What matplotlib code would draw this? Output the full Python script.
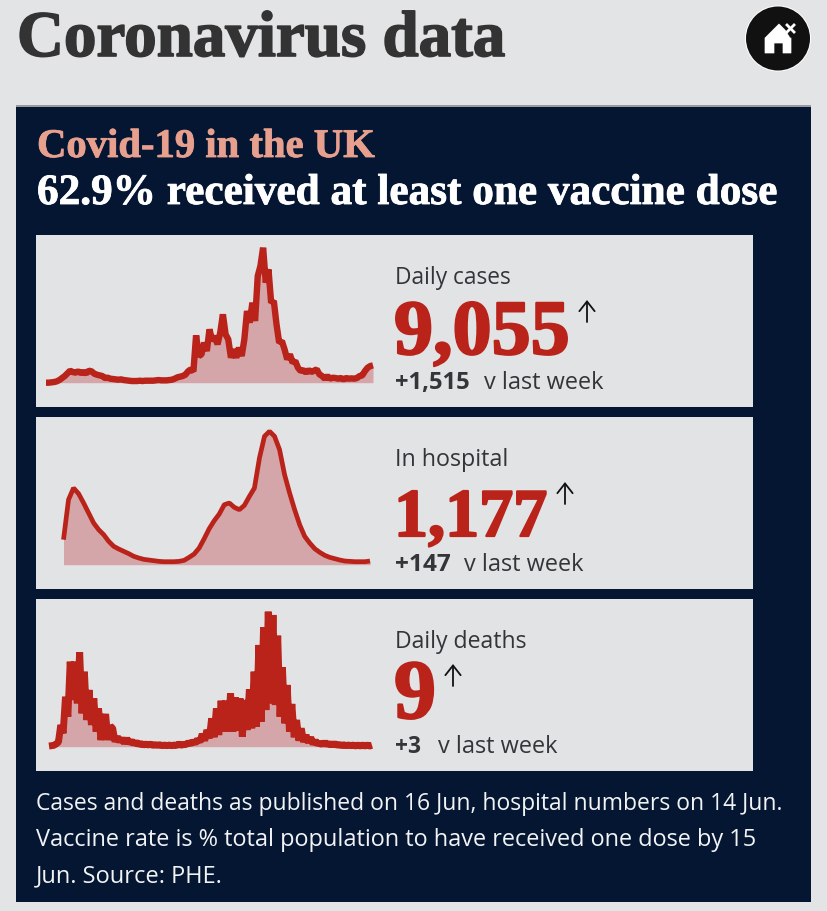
import numpy as np
import matplotlib
matplotlib.use("Agg")
import matplotlib.pyplot as plt
import matplotlib.patheffects as pe
from matplotlib.patches import Rectangle, Circle, Polygon

# Values, relative heights (tallest peak about 413)
cases = [0,0,1,2,4,8,14,20,28,36,32,30,34,29,32,28,36,34,27,24,22,20,14,15,12,11,10,9,10,8,7,6,5,5,5,6,5,6,6,6,
         6,7,8,7,7,7,8,9,12,16,18,20,24,34,40,34,142,80,85,120,95,160,125,140,115,150,205,145,130,75,100,75,105,80,130,
         215,180,240,185,320,350,405,300,340,240,245,175,120,125,100,70,85,60,65,45,35,38,30,38,32,36,40,25,20,12,20,12,
         15,14,12,14,10,14,12,13,12,14,20,22,35,45,50,52]
hospital = [75,195,230,213,185,155,125,105,90,70,55,47,40,33,25,20,16,14,12,10,9,9,9,10,13,22,32,50,78,108,132,152,180,
            185,172,165,178,205,230,320,385,400,385,345,270,215,165,120,85,65,48,37,28,22,18,14,11,10,9,9,9,11]
deaths = [2,3,4,8,14,65,40,150,90,255,140,255,130,283,100,225,80,170,65,145,45,115,20,60,98,20,62,55,15,30,15,25,10,25,10,
          18,8,14,6,10,5,8,5,8,4,6,4,6,3,5,3,5,3,5,3,9,4,7,6,12,8,16,10,22,14,38,18,50,25,85,28,115,35,138,45,138,45,
          160,45,148,48,145,30,140,50,172,55,225,60,305,75,358,110,405,130,395,125,333,90,238,70,185,45,128,28,80,18,55,14,35,12,
          28,8,18,7,12,5,14,5,10,4,10,4,7,3,6,3,5,3,5,2,5,2,5,2,5,2,4]

titles = ["Daily cases", "In hospital", "Daily deaths"]
headline = ["9,055", "1,177", "9"]
changes = ["+1,515", "+147", "+3"]
compare = "v last week"
footer = ["Cases and deaths as published on 16 Jun, hospital numbers on 14 Jun.",
          "Vaccine rate is % total population to have received one dose by 15",
          "Jun. Source: PHE."]

BG = "#e3e4e6"; NAVY = "#051633"; PANEL = "#e2e3e5"; RED = "#b9231a"; FILL = "#d5a6a9"
PINK = "#e8a08e"; INK = "#333538"
SANS = ["Open Sans", "DejaVu Sans"]; SERIF = ["Liberation Serif", "DejaVu Serif"]

fig = plt.figure(figsize=(8.28, 9.12), dpi=100, facecolor=BG)
bg = fig.add_axes([0, 0, 1, 1]); bg.set_xlim(0, 828); bg.set_ylim(912, 0); bg.axis("off")
renderer = fig.canvas.get_renderer()

def fit(x, y, s, width, color, family=SANS, weight="normal", stroke=0):
    t = bg.text(x, y, s, color=color, family=family, weight=weight, va="baseline", ha="left", fontsize=20, zorder=6)
    w = t.get_window_extent(renderer).width
    t.set_fontsize(20 * width / w)
    if stroke:
        t.set_path_effects([pe.withStroke(linewidth=stroke, foreground=color)])
    return t

fit(17, 57, "Coronavirus data", 488, "#333333", SERIF, "bold", 1.2)
bg.add_patch(Rectangle((16, 106), 795, 797, fc=NAVY, ec="none"))
bg.add_patch(Rectangle((16, 106), 795, 2, fc="#9a9b9d", ec="none"))
fit(37, 158, "Covid-19 in the UK", 338, PINK, SERIF, "bold", 0.6)
fit(37, 205, "62.9% received at least one vaccine dose", 741, "white", SERIF, "bold", 0.6)

# Home icon
bg.add_patch(Circle((778, 39.5), 33, fc="white", ec="none"))
bg.add_patch(Circle((778, 39.5), 32, fc="#111111", ec="none"))
bg.add_patch(Polygon([(765, 39), (779, 25), (785, 31), (790, 39), (791, 39), (791, 54), (783, 54), (783, 44),
                      (774, 44), (774, 54), (765, 54)], fc="white", ec="white", lw=0.5, joinstyle="round"))
bg.plot([787, 794], [26, 33], color="white", lw=2)
bg.plot([794, 787], [26, 33], color="white", lw=2)

panel_tops = [236, 418, 600]
series = [cases, hospital, deaths]
spans = [(46, 373), (63.5, 370), (49, 372)]
line_w = [4.6, 3.4, 5.0]
big_w = [175, 153, 42]
arrow_x = [587, 565, 453]
label_w = [116, 113, 131]
change_w = [75, 56, 26]
cmp_x = [484, 464, 438]

for top, vals, span, lw, label, lbw, big, bw, ax_x, chg, cw, cx in zip(
        panel_tops, series, spans, line_w, titles, label_w, headline, big_w, arrow_x, changes, change_w, cmp_x):
    bg.add_patch(Rectangle((36, top), 717, 172, fc=PANEL, ec="none", zorder=2))
    base = top + 147.7
    h = 137.7
    ax = fig.add_axes([span[0] / 828, 1 - base / 912, (span[1] - span[0]) / 828, h / 912], zorder=3)
    ax.patch.set_alpha(0); ax.axis("off")
    n = len(vals)
    xs = np.arange(n)
    ax.set_xlim(0, n - 1); ax.set_ylim(0, 413)
    ax.fill_between(xs, 0, vals, color=FILL, lw=0)
    ax.plot(xs, vals, color=RED, lw=lw, solid_joinstyle="bevel", solid_capstyle="butt", clip_on=False)
    fit(395.5, top + 48, label, lbw, INK)
    fit(394, top + 119, big, bw, RED, SERIF, "bold", 1.6)
    bg.annotate("", xy=(ax_x, top + 65), xytext=(ax_x, top + 87), zorder=6,
                arrowprops=dict(arrowstyle="->,head_length=0.7,head_width=0.55", lw=1.3, color="#111111", shrinkA=0, shrinkB=0))
    fit(395.5, top + 153, chg, cw, INK, SANS, "bold")
    fit(cx, top + 153, compare, 119, INK)

for y, s, w in zip([810, 846, 882], footer, [744, 719, 187]):
    fit(36, y, s, w, "#f2f3f4")

fig.savefig("out.png", dpi=100, facecolor=BG)
